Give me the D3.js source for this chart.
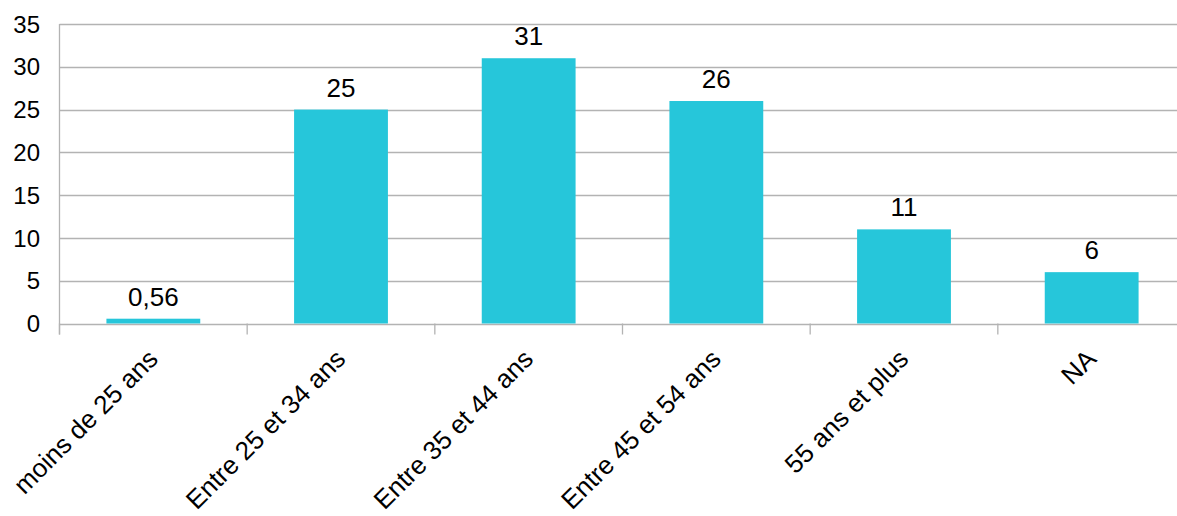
<!DOCTYPE html>
<html>
<head>
<meta charset="utf-8">
<script src="https://cdn.jsdelivr.net/npm/d3@7"></script>
<style>
  html, body { margin: 0; padding: 0; background: #fff; }
  svg { display: block; }
  text { font-family: "Liberation Sans", Arial, sans-serif; fill: #000; }
</style>
</head>
<body>
<svg id="chart" width="1177" height="516"></svg>
<script>
// Age groups and their shares (%)
const categories = ["moins de 25 ans", "Entre 25 et 34 ans", "Entre 35 et 44 ans", "Entre 45 et 54 ans", "55 ans et plus", "NA"];
const values = [0.56, 25, 31, 26, 11, 6];
const valueLabels = ["0,56", "25", "31", "26", "11", "6"];
const yTicks = [0, 5, 10, 15, 20, 25, 30, 35];

const svg = d3.select("#chart");
const plot = { left: 59.5, right: 1185.5, top: 24, bottom: 323.5 };
const barColor = "#26c6da";
const gridColor = "#b3b3b3";

const x = d3.scaleBand().domain(categories).range([plot.left, plot.right]).paddingInner(0.5).paddingOuter(0.25);
const xOuter = d3.scaleBand().domain(categories).range([plot.left, plot.right]);
const y = d3.scaleLinear().domain([0, 35]).range([plot.bottom, plot.top]);

// horizontal gridlines
svg.append("g")
  .selectAll("line")
  .data(yTicks)
  .join("line")
  .attr("x1", plot.left).attr("x2", plot.right)
  .attr("y1", d => Math.round(y(d)) + 0.5).attr("y2", d => Math.round(y(d)) + 0.5)
  .attr("stroke", gridColor).attr("stroke-width", 1.3);

// y axis labels
svg.append("g")
  .selectAll("text")
  .data(yTicks)
  .join("text")
  .attr("x", 40)
  .attr("y", d => y(d))
  .attr("dy", "0.36em")
  .attr("text-anchor", "end")
  .attr("font-size", 24)
  .text(d => d);

// vertical axis line and category separators
svg.append("line")
  .attr("x1", plot.left).attr("x2", plot.left)
  .attr("y1", plot.top).attr("y2", plot.bottom + 11)
  .attr("stroke", gridColor).attr("stroke-width", 1.3);

svg.append("g")
  .selectAll("line")
  .data(categories)
  .join("line")
  .attr("x1", d => xOuter(d)).attr("x2", d => xOuter(d))
  .attr("y1", plot.bottom).attr("y2", plot.bottom + 11)
  .attr("stroke", gridColor).attr("stroke-width", 1.3);

// bars
svg.append("g")
  .selectAll("rect")
  .data(values)
  .join("rect")
  .attr("x", (d, i) => x(categories[i]))
  .attr("width", x.bandwidth())
  .attr("y", d => y(d))
  .attr("height", d => y(0) - y(d))
  .attr("fill", barColor);

// value labels
svg.append("g")
  .selectAll("text")
  .data(values)
  .join("text")
  .attr("x", (d, i) => x(categories[i]) + x.bandwidth() / 2)
  .attr("y", d => y(d) - 13)
  .attr("text-anchor", "middle")
  .attr("font-size", 26)
  .text((d, i) => valueLabels[i]);

// rotated category labels
svg.append("g")
  .selectAll("text")
  .data(categories)
  .join("text")
  .attr("text-anchor", "end")
  .attr("font-size", 26)
  .attr("transform", d => {
    const cx = xOuter(d) + xOuter.bandwidth() / 2 + 6;
    return `translate(${cx},${plot.bottom + 37}) rotate(-45)`;
  })
  .text(d => d);
</script>
</body>
</html>
